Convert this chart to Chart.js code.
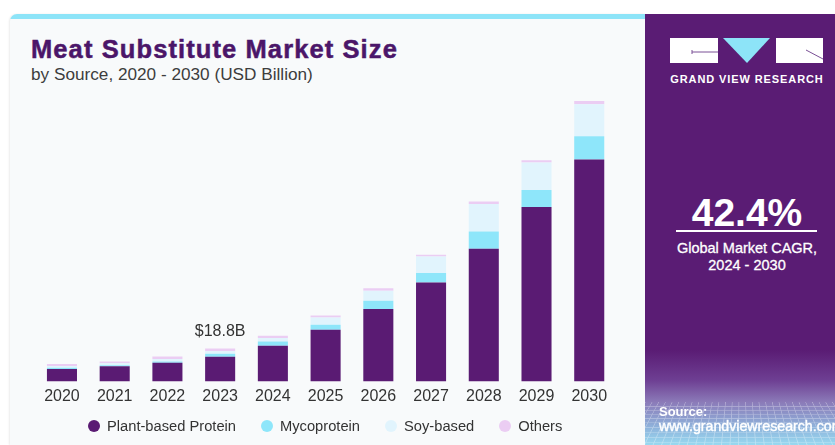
<!DOCTYPE html>
<html>
<head>
<meta charset="utf-8">
<script src="https://cdn.jsdelivr.net/npm/chart.js@4.4.1/dist/chart.umd.min.js"></script>
<style>
  html, body { margin: 0; padding: 0; width: 835px; height: 445px; overflow: hidden; background: #fff; }
  body { position: relative; font-family: 'Liberation Sans', Arial, sans-serif; }
  .card { position: absolute; left: 10px; top: 14px; width: 635px; height: 431px; background: #f8fafb;
          border-top-left-radius: 7px; box-shadow: -1px 0 2px rgba(0,0,0,0.08); overflow: hidden; }
  .card .strip { position: absolute; left: 0; top: 0; width: 100%; height: 5px; background: #8de4f8; }
  .title { position: absolute; left: 31px; top: 35px; font-size: 25.5px; font-weight: bold; color: #4b1669;
           letter-spacing: 1.1px; -webkit-text-stroke: 0.5px #4b1669; white-space: nowrap; }
  .subtitle { position: absolute; left: 31px; top: 64px; font-size: 17.2px; color: #3d3d3d; white-space: nowrap; }
  #chart { position: absolute; left: 0; top: 0; }

  .legend { position: absolute; left: 88px; top: 417px; display: flex; gap: 25px; font-size: 14.7px; color: #333; }
  .legend .item { display: flex; align-items: center; height: 18px; white-space: nowrap; }
  .legend .dot { width: 12px; height: 12px; border-radius: 50%; margin-right: 7px; }

  .panel { position: absolute; left: 645px; top: 14px; width: 190px; height: 431px; overflow: hidden;
           background: linear-gradient(to bottom, #5a1c74 0%, #5a1c74 78%, #6e3f93 85%, #8b7ab8 90%, #8fb4dc 96%, #98d9f0 100%); }
  .panel .floor { position: absolute; left: -60px; right: -60px; bottom: -10px; height: 90px; opacity: 0.35;
           background-image: repeating-linear-gradient(90deg, rgba(255,255,255,0.9) 0 1px, transparent 1px 9px),
                             repeating-linear-gradient(0deg, rgba(255,255,255,0.9) 0 1px, transparent 1px 8px);
           transform: perspective(160px) rotateX(38deg); transform-origin: bottom; }
  .panel .centered { position: absolute; left: 0; width: 204px; text-align: center; color: #fff; }
  .panel .brand { top: 59px; font-size: 11px; font-weight: bold; letter-spacing: 0.9px; }
  .panel .cagr { top: 177px; font-size: 39px; font-weight: bold; }
  .panel .rule { position: absolute; left: 31px; width: 141px; top: 216px; height: 2px; background: #fff; }
  .panel .caption { top: 226px; font-size: 14.5px; line-height: 17px; -webkit-text-stroke: 0.3px #fff; }
  .panel .source { position: absolute; left: 14px; top: 391px; color: #fff; font-size: 13px; font-weight: bold; line-height: 14px; white-space: nowrap; }
  .panel .source span { font-size: 14.2px; font-weight: normal; -webkit-text-stroke: 0.4px #fff; }
</style>
</head>
<body>
<div class="card"><div class="strip"></div></div>
<div class="title">Meat Substitute Market Size</div>
<div class="subtitle">by Source, 2020 - 2030 (USD Billion)</div>
<canvas id="chart" width="645" height="445"></canvas>
<div class="legend" id="legend"></div>

<div class="panel">
  <svg width="190" height="60" style="position:absolute;left:0;top:0">
    <rect x="25" y="24" width="48" height="25" fill="#fff"/>
    <line x1="47" y1="38" x2="73" y2="38" stroke="#7a5096" stroke-width="1"/>
    <line x1="47" y1="36" x2="47" y2="40" stroke="#7a5096" stroke-width="1"/>
    <polygon points="78,24 125,24 102,49" fill="#8de4f8"/>
    <rect x="131" y="24" width="47" height="25" fill="#fff"/>
    <line x1="161" y1="36" x2="178" y2="45" stroke="#7a5096" stroke-width="1"/>
  </svg>
  <div class="centered brand">GRAND VIEW RESEARCH</div>
  <div class="centered cagr">42.4%</div>
  <div class="rule"></div>
  <div class="centered caption">Global Market CAGR,<br>2024 - 2030</div>
  <div class="floor"></div>
  <div class="source">Source:<br><span>www.grandviewresearch.com</span></div>
</div>

<script>
// market size by source, USD billion
const years = ['2020', '2021', '2022', '2023', '2024', '2025', '2026', '2027', '2028', '2029', '2030'];
const plantBased  = [7.2, 8.7, 10.7, 14.1, 20.5, 29.6, 41.4, 56.6, 75.8, 99.7, 126.9];
const mycoprotein = [0.6, 0.6, 0.8, 1.7, 2.3, 2.8, 4.7, 5.4, 9.9, 9.7, 13.3];
const soyBased    = [1.1, 1.1, 1.3, 1.5, 2.1, 4.2, 5.7, 9.5, 15.8, 15.8, 18.2];
const others      = [1.1, 1.1, 1.5, 1.5, 1.3, 1.1, 1.5, 1.0, 1.3, 1.3, 1.9];
const calloutYear = '2023';

const FONT = "'Liberation Sans', Arial, sans-serif";

// total for one year, used for the "$xx.xB" label above the bar
function totalFor(i) {
  return plantBased[i] + mycoprotein[i] + soyBased[i] + others[i];
}

const calloutPlugin = {
  id: 'callout',
  afterDatasetsDraw(chart) {
    const { ctx, scales: { x, y } } = chart;
    const i = years.indexOf(calloutYear);
    const total = totalFor(i);
    ctx.save();
    ctx.font = '16px ' + FONT;
    ctx.fillStyle = '#333';
    ctx.textAlign = 'center';
    ctx.textBaseline = 'alphabetic';
    ctx.fillText('$' + total.toFixed(1) + 'B', x.getPixelForValue(i), y.getPixelForValue(total) - 13);
    ctx.restore();
  }
};

const bar = (label, data, color) => ({
  label, data, backgroundColor: color, borderWidth: 0,
  barPercentage: 0.57, categoryPercentage: 1
});

const chart = new Chart(document.getElementById('chart'), {
  type: 'bar',
  data: {
    labels: years,
    datasets: [
      bar('Plant-based Protein', plantBased, '#5a1b73'),
      bar('Mycoprotein', mycoprotein, '#8ee6fa'),
      bar('Soy-based', soyBased, '#e1f4fd'),
      bar('Others', others, '#ebcdf3')
    ]
  },
  options: {
    responsive: false,
    animation: false,
    layout: { padding: { left: 35.6, right: 29.4, top: 84, bottom: 34.3 } },
    scales: {
      x: {
        stacked: true,
        grid: { display: false, drawTicks: false },
        border: { display: false },
        ticks: { color: '#333', font: { size: 16, family: FONT }, padding: 5 }
      },
      y: { stacked: true, display: false, min: 0, max: 170 }
    },
    plugins: {
      legend: { display: false },
      tooltip: { enabled: false }
    }
  },
  plugins: [calloutPlugin]
});

// html legend built from the chart's datasets
const legendEl = document.getElementById('legend');
chart.data.datasets.forEach(ds => {
  const item = document.createElement('div');
  item.className = 'item';
  const dot = document.createElement('span');
  dot.className = 'dot';
  dot.style.background = ds.backgroundColor;
  item.appendChild(dot);
  item.appendChild(document.createTextNode(ds.label));
  legendEl.appendChild(item);
});
</script>
</body>
</html>
